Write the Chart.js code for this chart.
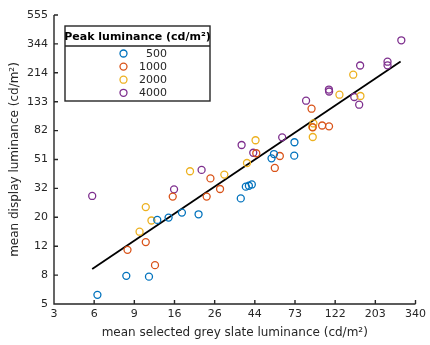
<!DOCTYPE html>
<html>
<head>
  <meta charset="UTF-8">
  <title>Display vs grey slate luminance</title>
  <script src="https://cdn.jsdelivr.net/npm/chart.js"></script>
  <style>
    * { margin: 0; padding: 0; box-sizing: border-box; }
    body { background: #fff; }
    .wrap { width: 430px; height: 345px; position: relative; }
  </style>
</head>
<body>
  <div class="wrap"><canvas id="chart"></canvas></div>

  <script>
    // --- Axis tick labels (axis is evenly spaced in these labels) ---
    const xTickLabels = [3, 6, 9, 16, 26, 44, 73, 122, 203, 340];
    const yTickLabels = [5, 8, 12, 20, 32, 51, 82, 133, 214, 344, 555];

    // --- Data, cd/m2 ---
    const seriesLabels = ['500', '1000', '2000', '4000'];
    const seriesColors = ['#0072BD', '#D95319', '#EDB120', '#7E2F8E'];

    const lum500X  = [6.2, 8.3, 11.1, 12.5, 14.7, 17.5, 21.4, 36.6, 39.1, 40.7, 42.3, 56.0, 54.3, 72.5, 72.3];
    const lum500Y  = [5.8, 7.9, 7.8, 19.1, 19.9, 21.6, 21.0, 27.2, 32.9, 33.4, 34.1, 55.8, 52.0, 67.7, 54.3];

    const lum1000X = [8.4, 10.6, 12.1, 15.6, 23.6, 24.7, 27.9, 44.8, 60.3, 56.6, 90.2, 91.6, 103.3, 112.8];
    const lum1000Y = [11.4, 12.9, 9.2, 28.0, 28.0, 37.6, 31.7, 56.5, 54.0, 44.5, 118.3, 86.6, 89.3, 88.1];

    const lum2000X = [9.7, 10.6, 11.5, 19.3, 29.5, 39.7, 44.4, 92.4, 91.0, 91.6, 128.8, 153.4, 168.1];
    const lum2000Y = [15.5, 23.6, 18.9, 42.2, 40.0, 48.2, 70.0, 92.4, 87.1, 73.8, 149.2, 207.4, 146.1];

    const lum4000X = [5.8, 15.9, 22.2, 37.0, 43.1, 62.1, 84.1, 112.6, 112.9, 155.4, 165.4, 167.4, 237.4, 237.4, 283.4];
    const lum4000Y = [28.3, 31.5, 43.1, 64.7, 57.0, 73.4, 135.2, 162.5, 157.3, 143.7, 126.5, 241.3, 256.7, 242.1, 365.2];

    // fitted line end points
    const fitX = [5.8, 280.8];
    const fitY = [8.7, 257.6];

    // value -> position on the tick-spaced axis (log interpolation between ticks)
    function toPos(v, ticks) {
      let k = 0;
      while (k < ticks.length - 2 && v > ticks[k + 1]) k++;
      return k + (Math.log(v) - Math.log(ticks[k])) / (Math.log(ticks[k + 1]) - Math.log(ticks[k]));
    }
    const toPoints = (xs, ys) => xs.map((x, i) => ({ x: toPos(x, xTickLabels), y: toPos(ys[i], yTickLabels) }));

    const TEXT = '#262626';
    const FONT = 'DejaVu Sans';

    const seriesXs = [lum500X, lum1000X, lum2000X, lum4000X];
    const seriesYs = [lum500Y, lum1000Y, lum2000Y, lum4000Y];

    const datasets = seriesLabels.map((label, s) => ({
      type: 'scatter',
      label,
      data: toPoints(seriesXs[s], seriesYs[s]),
      borderColor: seriesColors[s],
      backgroundColor: 'transparent',
      pointRadius: 3.5,
      pointBorderWidth: 1.3,
      pointHoverRadius: 3.5,
    }));

    datasets.push({
      type: 'line',
      label: 'fit',
      data: toPoints(fitX, fitY),
      borderColor: '#000',
      borderWidth: 1.8,
      pointRadius: 0,
      fill: false,
    });

    // axes lines + inward tick marks, MATLAB style
    const axisPlugin = {
      id: 'axisPlugin',
      afterDatasetsDraw(chart) {
        const { ctx, chartArea: a, scales: { x, y } } = chart;
        ctx.save();
        ctx.strokeStyle = TEXT;
        ctx.lineWidth = 1.4;
        ctx.beginPath();
        ctx.moveTo(a.left, a.top);
        ctx.lineTo(a.left, a.bottom);
        ctx.lineTo(a.right, a.bottom);
        xTickLabels.forEach((_, i) => {
          const px = x.getPixelForValue(i);
          ctx.moveTo(px, a.bottom);
          ctx.lineTo(px, a.bottom - 4);
        });
        yTickLabels.forEach((_, i) => {
          const py = y.getPixelForValue(i);
          ctx.moveTo(a.left, py);
          ctx.lineTo(a.left + 4, py);
        });
        ctx.stroke();
        ctx.restore();
      }
    };

    // boxed legend with a title row
    const legendPlugin = {
      id: 'boxLegend',
      afterDraw(chart) {
        const { ctx } = chart;
        const bx = 65, by = 26, bw = 145, bh = 75;
        ctx.save();
        ctx.fillStyle = '#fff';
        ctx.fillRect(bx, by, bw, bh);
        ctx.strokeStyle = TEXT;
        ctx.lineWidth = 1.4;
        ctx.strokeRect(bx, by, bw, bh);
        ctx.beginPath();
        ctx.moveTo(bx, by + 20);
        ctx.lineTo(bx + bw, by + 20);
        ctx.stroke();

        ctx.fillStyle = '#000';
        ctx.font = 'bold 11px "' + FONT + '"';
        ctx.textAlign = 'center';
        ctx.textBaseline = 'middle';
        ctx.fillText('Peak luminance (cd/m²)', bx + bw / 2, by + 11);

        ctx.font = '11px "' + FONT + '"';
        ctx.textAlign = 'right';
        seriesLabels.forEach((label, s) => {
          const ry = by + 27.5 + s * 13.1;
          ctx.strokeStyle = seriesColors[s];
          ctx.lineWidth = 1.3;
          ctx.beginPath();
          ctx.arc(123.5, ry, 3.5, 0, Math.PI * 2);
          ctx.stroke();
          ctx.fillStyle = TEXT;
          ctx.fillText(label, 167, ry + 0.5);
        });
        ctx.restore();
      }
    };

    new Chart(document.getElementById('chart'), {
      data: { datasets },
      options: {
        responsive: true,
        maintainAspectRatio: false,
        animation: false,
        events: [],
        layout: { padding: { top: 15, right: 10, left: 0, bottom: 0 } },
        plugins: {
          legend: { display: false },
          tooltip: { enabled: false },
        },
        scales: {
          x: {
            type: 'linear',
            min: 0,
            max: xTickLabels.length - 1,
            afterFit: (s) => { s.height = 41; },
            grid: { display: false, drawTicks: false },
            border: { display: false },
            ticks: {
              stepSize: 1,
              autoSkip: false,
              maxRotation: 0,
              padding: 4,
              color: TEXT,
              font: { family: FONT, size: 11 },
              callback: (v) => xTickLabels[v],
            },
            title: {
              display: true,
              text: 'mean selected grey slate luminance (cd/m²)',
              color: TEXT,
              font: { family: FONT, size: 12 },
              padding: { top: 0, bottom: 5 },
            },
          },
          y: {
            type: 'linear',
            min: 0,
            max: yTickLabels.length - 1,
            afterFit: (s) => { s.width = 54; },
            grid: { display: false, drawTicks: false },
            border: { display: false },
            ticks: {
              stepSize: 1,
              autoSkip: false,
              padding: 6,
              color: TEXT,
              font: { family: FONT, size: 11 },
              callback: (v) => yTickLabels[v],
            },
            title: {
              display: true,
              text: 'mean display luminance (cd/m²)',
              color: TEXT,
              font: { family: FONT, size: 12 },
              padding: { top: 8, bottom: 0 },
            },
          },
        },
      },
      plugins: [axisPlugin, legendPlugin],
    });
  </script>
</body>
</html>
